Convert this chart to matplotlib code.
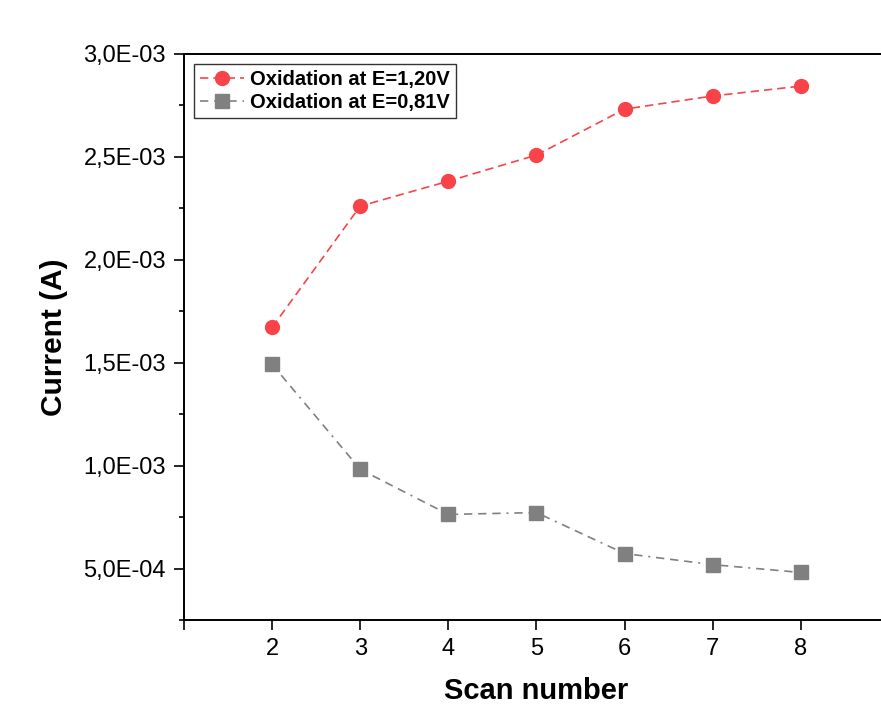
import matplotlib.pyplot as plt
from matplotlib.ticker import MultipleLocator, FuncFormatter

plt.rcParams['font.family'] = ['Liberation Sans', 'DejaVu Sans']

# data
scan = [2, 3, 4, 5, 6, 7, 8]
ox_120 = [1.672e-3, 2.261e-3, 2.382e-3, 2.509e-3, 2.732e-3, 2.796e-3, 2.844e-3]
ox_081 = [1.492e-3, 0.982e-3, 0.763e-3, 0.772e-3, 0.573e-3, 0.519e-3, 0.481e-3]
xticks = [1, 2, 3, 4, 5, 6, 7, 8]
xticklabels = ['', '2', '3', '4', '5', '6', '7', '8']

fig = plt.figure(figsize=(8.81, 7.04), dpi=100)
ax = fig.add_axes([0.2089, 0.1193, 0.80, 0.804])

ax.plot(scan, ox_120, color='#F84449', linestyle=(0, (5, 3)), linewidth=1.2,
        marker='o', markersize=10, label='Oxidation at E=1,20V')
ax.plot(scan, ox_081, color='#808080', linestyle=(0, (5, 3.5, 5, 3.5, 5, 3.5, 1.2, 3.5)),
        linewidth=1.2, marker='s', markersize=9.5, label='Oxidation at E=0,81V')

ax.set_xlim(1, 9)
ax.set_ylim(2.5e-4, 3.0e-3)
ax.set_xticks(xticks)
ax.set_xticklabels(xticklabels)
ax.yaxis.set_major_locator(MultipleLocator(5e-4))
ax.yaxis.set_minor_locator(MultipleLocator(2.5e-4))
ax.yaxis.set_major_formatter(FuncFormatter(lambda v, p: f"{v:.1E}".replace('.', ',')))

ax.tick_params(axis='both', which='major', direction='out', length=7, width=1.2,
               labelsize=17, pad=6)
ax.tick_params(axis='both', which='minor', direction='out', length=3.5, width=1.2)
for s in ax.spines.values():
    s.set_linewidth(1.4)

ax.set_xlabel('Scan number', fontsize=21, fontweight='bold', labelpad=12)
ax.set_ylabel('Current (A)', fontsize=21.5, fontweight='bold', labelpad=11)

leg = ax.legend(loc='upper left', frameon=True, fancybox=False,
                borderpad=0.3, handlelength=2.2, handletextpad=0.3,
                labelspacing=0.2, borderaxespad=0.5,
                prop={'weight': 'bold', 'size': 14.5})
leg.get_frame().set_edgecolor('black')
leg.get_frame().set_linewidth(1.0)

fig.savefig('out.png', dpi=100)
